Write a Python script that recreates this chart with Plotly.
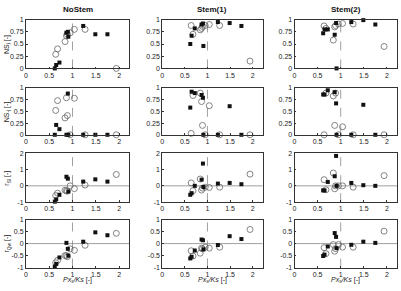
import plotly.graph_objects as go

# Shared x positions (Px_s/Ks)
x_sq = [0.62, 0.65, 0.72, 0.87, 0.90, 0.91, 1.23, 1.49, 1.75]
x_ci = [0.64, 0.68, 0.84, 0.87, 0.89, 0.95, 1.04, 1.27, 1.94]

col_titles = ["NoStem", "Stem(1)", "Stem(2)"]
row_labels = ["NS<sub>j</sub> [-]", "NS<sub>-j</sub> [-]", "r<sub>Sl</sub> [-]", "r<sub>Qw</sub> [-]"]
x_label = "<i>Px<sub>s</sub>/Ks</i> [-]"

# row 1 : NS_j
sq_r1_c1 = [0.00, 0.07, 0.12, 0.73, 0.75, 0.65, 0.87, 0.70, 0.70]
ci_r1_c1 = [0.29, 0.40, 0.55, 0.67, 0.70, 0.73, 0.80, 0.80, 0.00]
sq_r1_c2 = [0.50, 0.67, 0.82, 0.90, 0.92, 0.46, 0.95, 0.93, 0.87]
ci_r1_c2 = [0.88, 0.70, 0.79, 0.82, 0.86, 0.88, 0.90, 0.88, 0.15]
sq_r1_c3 = [0.72, 0.80, 0.80, 0.69, 0.93, 0.00, 0.95, 0.99, 0.90]
ci_r1_c3 = [0.87, 0.82, 0.58, 0.85, 0.88, 0.91, 0.92, 0.91, 0.45]
# row 2 : NS_-j
sq_r2_c1 = [0.00, 0.21, 0.12, 0.00, 0.88, 0.00, 0.00, 0.00, 0.00]
ci_r2_c1 = [0.52, 0.73, 0.36, 0.79, 0.41, 0.00, 0.78, 0.00, 0.00]
sq_r2_c2 = [0.58, 0.92, 0.89, 0.85, 0.79, 0.00, 0.00, 0.61, 0.00]
ci_r2_c2 = [0.03, 0.84, 0.89, 0.71, 0.20, 0.00, 0.62, 0.00, 0.00]
sq_r2_c3 = [0.86, 0.86, 0.95, 0.91, 0.67, 0.00, 0.00, 0.64, 0.00]
ci_r2_c3 = [0.00, 0.89, 0.83, 0.20, 0.89, 0.00, 0.17, 0.00, 0.00]
# row 3 : r_Sl
sq_r3_c1 = [-0.97, -0.83, -0.55, 0.56, 0.44, -0.35, 0.26, 0.40, 0.26]
ci_r3_c1 = [-0.60, -0.45, -0.27, -0.30, -0.33, 0.00, -0.17, 0.05, 0.70]
sq_r3_c2 = [-0.55, -0.45, 0.00, 0.38, 1.37, -0.07, 0.14, 0.18, 0.10]
ci_r3_c2 = [0.18, -0.30, 0.42, -0.26, -0.14, -0.08, -0.10, -0.08, 0.72]
sq_r3_c3 = [-0.28, -0.28, 0.24, 0.59, 1.84, 0.00, 0.18, 0.04, 0.00]
ci_r3_c3 = [0.38, -0.24, 0.79, -0.18, 0.00, 0.00, 0.00, -0.08, 0.63]
# row 4 : r_Qw
sq_r4_c1 = [-0.97, -0.85, -0.58, 0.03, -0.22, -0.50, 0.08, 0.47, 0.35]
ci_r4_c1 = [-0.80, -0.70, -0.50, -0.50, -0.55, -0.22, -0.28, -0.07, 0.43]
sq_r4_c2 = [-0.62, -0.55, -0.29, 0.17, 0.14, -0.24, -0.06, 0.31, 0.19]
ci_r4_c2 = [-0.30, -0.52, -0.40, -0.19, -0.22, -0.15, -0.19, -0.15, 0.59]
sq_r4_c3 = [-0.52, -0.46, -0.12, 0.44, 0.28, -0.19, -0.05, 0.08, 0.03]
ci_r4_c3 = [-0.17, -0.42, -0.04, -0.32, -0.21, -0.04, -0.15, -0.15, 0.52]

squares = [[sq_r1_c1, sq_r1_c2, sq_r1_c3], [sq_r2_c1, sq_r2_c2, sq_r2_c3],
           [sq_r3_c1, sq_r3_c2, sq_r3_c3], [sq_r4_c1, sq_r4_c2, sq_r4_c3]]
circles = [[ci_r1_c1, ci_r1_c2, ci_r1_c3], [ci_r2_c1, ci_r2_c2, ci_r2_c3],
           [ci_r3_c1, ci_r3_c2, ci_r3_c3], [ci_r4_c1, ci_r4_c2, ci_r4_c3]]

y_ranges = [[0, 1], [0, 1], [-1, 2], [-1, 1]]
y_ticks = [[0, 0.25, 0.5, 0.75, 1], [0, 0.25, 0.5, 0.75, 1], [-1, 0, 1, 2], [-1, -0.5, 0, 0.5, 1]]
y_ticktext = [["0", "0.25", "0.5", "0.75", "1"], ["0", "0.25", "0.5", "0.75", "1"],
              ["-1", "0", "1", "2"], ["-1", "-0.5", "0", "0.5", "1"]]
x_ticks = [0, 0.5, 1, 1.5, 2]
x_range = [0, 2.22]

W, H = 401, 291
col_px = [(24, 128), (161, 262), (294, 397)]
row_px = [(16, 66), (86, 134), (153, 203), (221, 270)]

fig = go.Figure()
annotations = []
shapes = []
tick_font = dict(family="Liberation Sans, Arial, sans-serif", size=7, color="#222")

for r in range(4):
    for c in range(3):
        idx = r * 3 + c + 1
        xa = "x" if idx == 1 else f"x{idx}"
        ya = "y" if idx == 1 else f"y{idx}"
        xkey = "xaxis" if idx == 1 else f"xaxis{idx}"
        ykey = "yaxis" if idx == 1 else f"yaxis{idx}"
        x0, x1 = col_px[c]
        t, b = row_px[r]
        fig.update_layout({
            xkey: dict(domain=[x0 / W, x1 / W], range=x_range, anchor=ya,
                       tickvals=x_ticks, ticktext=["0", "0.5", "1", "1.5", "2"],
                       showgrid=False, zeroline=False, showline=True, mirror=True,
                       linecolor="#333", linewidth=0.8, ticks="inside", ticklen=2,
                       tickcolor="#333", tickfont=tick_font),
            ykey: dict(domain=[1 - b / H, 1 - t / H], range=y_ranges[r], anchor=xa,
                       tickvals=y_ticks[r], ticktext=y_ticktext[r],
                       showgrid=False, zeroline=False, showline=True, mirror=True,
                       linecolor="#333", linewidth=0.8, ticks="inside", ticklen=2,
                       tickcolor="#333", tickfont=tick_font),
        })
        # dashed line at x=1
        shapes.append(dict(type="line", xref=xa, yref=ya, x0=1, x1=1,
                           y0=y_ranges[r][0], y1=y_ranges[r][1],
                           line=dict(color="#888", width=0.8, dash="dash"), layer="below"))
        if r >= 2:
            shapes.append(dict(type="line", xref=xa, yref=ya, x0=x_range[0], x1=x_range[1],
                               y0=0, y1=0, line=dict(color="#888", width=0.8), layer="below"))
        fig.add_trace(go.Scatter(x=x_ci, y=circles[r][c], mode="markers", xaxis=xa, yaxis=ya,
                                 marker=dict(symbol="circle-open", size=6, color="#666",
                                             line=dict(width=0.8, color="#666")),
                                 showlegend=False, cliponaxis=False))
        fig.add_trace(go.Scatter(x=x_sq, y=squares[r][c], mode="markers", xaxis=xa, yaxis=ya,
                                 marker=dict(symbol="square", size=4, color="#111"),
                                 showlegend=False, cliponaxis=False))

for c in range(3):
    x0, x1 = col_px[c]
    annotations.append(dict(text=f"<b>{col_titles[c]}</b>", x=(x0 + x1) / 2 / W, y=1 - 6 / H,
                            xref="paper", yref="paper", showarrow=False,
                            font=dict(family="Liberation Sans, Arial, sans-serif", size=8, color="#111"),
                            xanchor="center", yanchor="middle"))
    annotations.append(dict(text=x_label, x=(x0 + x1) / 2 / W, y=1 - 283 / H,
                            xref="paper", yref="paper", showarrow=False,
                            font=dict(family="Liberation Sans, Arial, sans-serif", size=7, color="#222"),
                            xanchor="center", yanchor="middle"))
for r in range(4):
    t, b = row_px[r]
    annotations.append(dict(text=row_labels[r], x=5 / W, y=1 - (t + b) / 2 / H,
                            xref="paper", yref="paper", showarrow=False, textangle=-90,
                            font=dict(family="Liberation Sans, Arial, sans-serif", size=7, color="#222"),
                            xanchor="center", yanchor="middle"))

fig.update_layout(width=W, height=H, margin=dict(l=0, r=0, t=0, b=0),
                  paper_bgcolor="white", plot_bgcolor="white",
                  shapes=shapes, annotations=annotations, showlegend=False)

fig.write_html("out.html")
